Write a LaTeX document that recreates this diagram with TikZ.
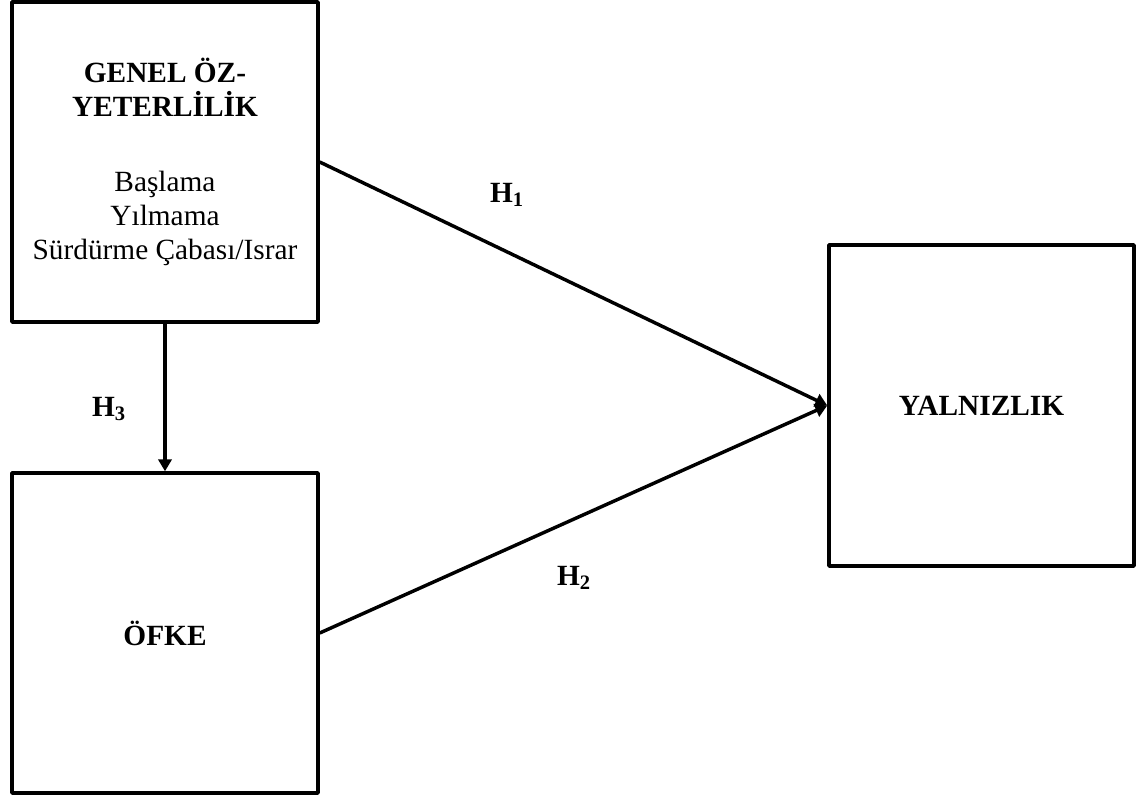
\documentclass[tikz,border=0pt]{standalone}
\usepackage{fontspec}
\setmainfont{Liberation Serif}
\usetikzlibrary{arrows.meta}

\tikzset{every picture/.style={line width=2.6pt}}
\tikzset{
	varbox/.style={draw, line width=2.6pt, line join=round, minimum width=306*0.75pt, minimum height=320*0.75pt, inner sep=0pt, align=center, font=\fontsize{22}{25.5}\selectfont},
	hyplabel/.style={font=\fontsize{22}{25.5}\selectfont\bfseries},
	hyparrow/.style={line width=2.6pt, -{Triangle[length=9pt,width=10pt]}}
}

\begin{document}
\begin{tikzpicture}[x=0.75pt,y=0.75pt,yscale=-1,xscale=1]
	\useasboundingbox (0,0) rectangle (1142,800);

	%Shape: Rectangle [genel]
	\node [varbox] (genel) at (165,162) {\textbf{GENEL ÖZ-}\\\textbf{YETERLİLİK}\\[31pt]Başlama\\Yılmama\\Sürdürme Çabası/Israr};
	%Shape: Rectangle [ofke]
	\node [varbox] (ofke) at (165,633) {\textbf{ÖFKE}};
	%Shape: Rectangle [yalniz]
	\node [varbox, minimum width=305*0.75pt, minimum height=321*0.75pt] (yalniz) at (981.5,405.5) {\textbf{YALNIZLIK}};

	%Straight Lines [h1]
	\draw [hyparrow] (genel.east) -- (yalniz.west) ;
	%Straight Lines [h2]
	\draw [hyparrow] (ofke.east) -- (yalniz.west) ;
	%Straight Lines [h3]
	\draw [hyparrow] (genel.south) -- (ofke.north) ;

	% Text Node
	\node [hyplabel] (lh1) at (507,195) {H\textsubscript{1}};
	% Text Node
	\node [hyplabel] (lh2) at (574,578) {H\textsubscript{2}};
	% Text Node
	\node [hyplabel] (lh3) at (109,409) {H\textsubscript{3}};

\end{tikzpicture}
\end{document}
